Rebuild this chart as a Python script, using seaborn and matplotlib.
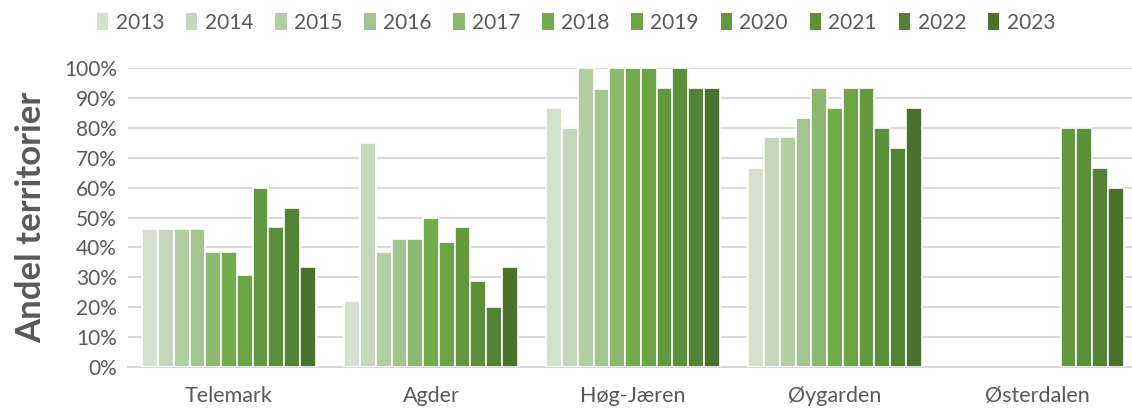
import numpy as np
import pandas as pd
import matplotlib
matplotlib.use("Agg")
import matplotlib.pyplot as plt
import seaborn as sns
from matplotlib.patches import Patch

regions = ["Telemark", "Agder", "Høg-Jæren", "Øygarden", "Østerdalen"]
years = ["2013", "2014", "2015", "2016", "2017", "2018", "2019", "2020", "2021", "2022", "2023"]
telemark = [46.2, 46.2, 46.2, 46.2, 38.5, 38.5, 30.8, 60.0, 46.7, 53.3, 33.3]
agder = [22.2, 75.0, 38.5, 42.9, 42.9, 50.0, 41.7, 46.7, 28.6, 20.0, 33.3]
hog_jaeren = [86.7, 80.0, 100.0, 92.9, 100.0, 100.0, 100.0, 93.3, 100.0, 93.3, 93.3]
oygarden = [66.7, 76.9, 76.9, 83.3, 93.3, 86.7, 93.3, 93.3, 80.0, 73.3, 86.7]
osterdalen = [np.nan] * 7 + [80.0, 80.0, 66.7, 60.0]
colors = ["#d5e1cc", "#c4d7bb", "#b2cea5", "#a2c48f", "#8cb870", "#73ad4b",
          "#6aa444", "#63983e", "#5b8f39", "#548335", "#4a722d"]

series = [telemark, agder, hog_jaeren, oygarden, osterdalen]
rows = []
for reg, vals in zip(regions, series):
    for y, v in zip(years, vals):
        rows.append({"region": reg, "year": y, "value": v / 100.0})
df = pd.DataFrame(rows)

sns.set_theme(style="white")
plt.rcParams["font.family"] = ["Lato", "DejaVu Sans"]

fig = plt.figure(figsize=(11.32, 4.09), dpi=100)
ax = fig.add_axes([128 / 1132, 42 / 409, (1138 - 128) / 1132, (367 - 68) / 409])

sns.barplot(data=df, x="region", y="value", hue="year", order=regions, hue_order=years,
            palette=colors, saturation=1, width=0.86, edgecolor="white", linewidth=1.2,
            errorbar=None, ax=ax, legend=False, zorder=3)

ax.set_ylim(0, 1.0)
ax.set_xlim(-0.5, len(regions) - 0.5)
ax.set_yticks(np.arange(0, 1.01, 0.1))
ax.set_yticklabels([f"{int(round(t*100))}%" for t in np.arange(0, 1.01, 0.1)],
                   fontsize=15, color="#595959")
ax.yaxis.grid(True, color="#d9d9d9", linewidth=1.5, zorder=0)
ax.set_axisbelow(True)
for s in ["top", "right", "left"]:
    ax.spines[s].set_visible(False)
ax.spines["bottom"].set_color("#d9d9d9")
ax.spines["bottom"].set_linewidth(1.5)
ax.tick_params(axis="y", length=0, pad=8)
ax.tick_params(axis="x", which="major", length=0, labelsize=15.5, labelcolor="#595959", pad=14)
ax.set_xticks(np.arange(-0.5, len(regions) + 0.5, 1), minor=True)
ax.tick_params(axis="x", which="minor", length=6, width=1.5, color="#d9d9d9", direction="out")
ax.set_xlabel("")
ax.set_ylabel("Andel territorier", fontsize=25, fontweight="bold", color="#595959", labelpad=12)

handles = [Patch(facecolor=c, edgecolor="none") for c in colors]
fig.legend(handles, years, loc="center", bbox_to_anchor=(576 / 1132, 1 - 23 / 409), ncol=11,
           frameon=False, fontsize=15, handlelength=0.55, handleheight=0.9,
           handletextpad=0.35, columnspacing=1.05, labelcolor="#595959")

fig.savefig("out.png", dpi=100)
